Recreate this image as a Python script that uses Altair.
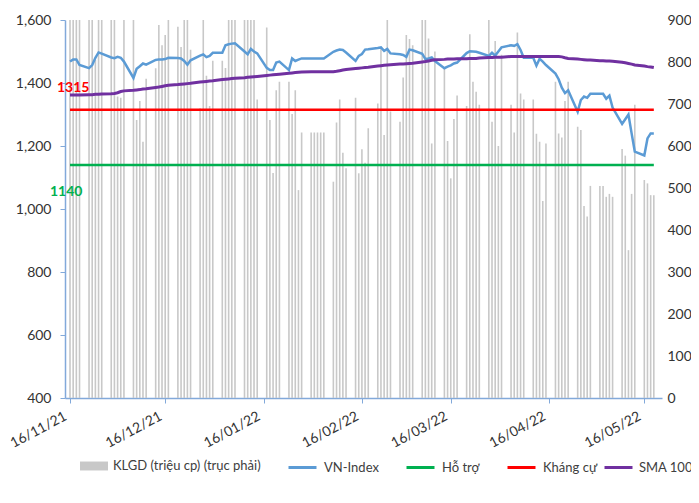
import altair as alt
import pandas as pd

# ---------------- data ----------------
trade_dates = pd.bdate_range("2021-11-16", "2022-05-19")

vn_index = [
    # Nov 2021
    1468, 1475, 1475, 1457, 1447, 1457, 1480, 1497, 1493, 1481, 1479,
    # Dec 2021
    1483, 1480, 1468, 1416, 1445, 1453, 1462, 1458, 1473, 1475, 1475, 1476,
    1480, 1479, 1478, 1470, 1458, 1472, 1487, 1491, 1482, 1486, 1496,
    # Jan 2022
    1496, 1520, 1523, 1525, 1526, 1500, 1491, 1508, 1500, 1494, 1448, 1441,
    1441, 1465, 1468, 1441, 1478, 1470, 1474, 1478, 1478,
    # Feb 2022
    1478, 1478, 1478, 1478, 1499, 1503, 1506, 1505, 1497, 1470, 1486, 1492,
    1506, 1507, 1511, 1513, 1502, 1508, 1494, 1491,
    # Mar 2022
    1489, 1483, 1506, 1504, 1493, 1476, 1478, 1481, 1470, 1447, 1452, 1456,
    1462, 1465, 1495, 1501, 1500, 1499, 1496, 1486, 1496, 1487, 1500,
    # Apr 2022
    1513, 1520, 1518, 1523, 1505, 1480, 1480, 1455, 1477, 1468, 1457, 1430,
    1412, 1385, 1368, 1377, 1309, 1346, 1357, 1353, 1366,
    # May 2022
    1366, 1366, 1350, 1360, 1322, 1270, 1285, 1300, 1240, 1182, 1170, 1224,
    1240, 1240,
]

sma_100 = [
    1362, 1362, 1362, 1362, 1363, 1363, 1364, 1364, 1365, 1366, 1367,
    1369, 1373, 1375, 1377, 1378, 1379, 1381, 1382, 1386, 1387, 1389, 1391,
    1393, 1395, 1396, 1397, 1398, 1399, 1403, 1404, 1405, 1406, 1407,
    1411, 1412, 1413, 1414, 1415, 1417, 1418, 1419, 1420, 1421, 1424, 1425,
    1426, 1427, 1428, 1431, 1432, 1433, 1434, 1435, 1436,
    1436, 1436, 1436, 1436, 1436, 1437, 1439, 1441, 1443, 1446, 1447, 1448,
    1449, 1450, 1454, 1455, 1456, 1457, 1458, 1460,
    1460, 1461, 1462, 1463, 1467, 1468, 1470, 1472, 1474, 1475, 1476, 1476,
    1476, 1477, 1477, 1478, 1478, 1478, 1479, 1481, 1481, 1482, 1482,
    1482, 1484, 1484, 1484, 1484, 1484, 1484, 1484, 1484, 1484, 1484, 1484,
    1484, 1483, 1480, 1478, 1476, 1475, 1474, 1473, 1473,
    1471, 1471, 1470, 1470, 1469, 1466, 1464, 1462, 1460, 1457, 1454, 1452,
    1451, 1449,
]

volume = [
    1100, 1050, 980, 1000, 950, 1120, 805, 1050, 1000, 1100, 1150,
    718, 715, 1000, 1100, 662, 707, 610, 760, 785, 888, 840, 864,
    1000, 884, 836, 1000, 950, 829, 690, 1000, 767, 695, 803,
    803, 786, 1000, 1050, 950, 1000, 1100, 1050, 950, 711, 882, 662,
    536, 733, 753, 753, 676, 733, 495, 632, 632,
    632, 632, 632, 632, 515, 656, 711, 584, 547, 715, 535, 592,
    560, 642, 701, 836, 626, 950, 682, 658,
    763, 864, 855, 840, 1000, 1050, 856, 606, 825, 786, 612, 523,
    664, 720, 695, 866, 753, 729, 698, 960, 658, 850, 600,
    817, 698, 632, 870, 725, 711, 711, 629, 610, 469, 606, 753,
    630, 620, 707, 753, 646, 638, 457, 432, 505,
    505, 505, 479, 486, 479, 593, 577, 352, 486, 698, 519, 511,
    483, 483,
]

support_level = 1140
resistance_level = 1315

bar_name = "KLGD (triệu cp) (trục phải)"
level_names = ["VN-Index", "Hỗ trợ", "Kháng cự"]
level_colors = ["#5B9BD5", "#00B050", "#FF0000"]
sma_name = "SMA 100"
sma_color = "#7030A0"
bar_color = "#C8C8C8"

tick_dates = [(2021, 11), (2021, 12), (2022, 1), (2022, 2), (2022, 3), (2022, 4), (2022, 5)]
left_ticks = [400, 600, 800, 1000, 1200, 1400, 1600]
right_ticks = [0, 100, 200, 300, 400, 500, 600, 700, 800, 900]

# ---------------- tables ----------------
vol_df = pd.DataFrame({"date": trade_dates, "volume": volume, "series": bar_name})

ends = [trade_dates[0], trade_dates[-1]]
line_df = pd.concat([
    pd.DataFrame({"date": trade_dates, "value": vn_index, "series": "VN-Index"}),
    pd.DataFrame({"date": ends, "value": [support_level] * 2, "series": "Hỗ trợ"}),
    pd.DataFrame({"date": ends, "value": [resistance_level] * 2, "series": "Kháng cự"}),
    pd.DataFrame({"date": trade_dates, "value": sma_100, "series": sma_name}),
], ignore_index=True)

FONT = "Lato"
AXIS_BLUE = "#82A9DA"

x_enc = alt.X(
    "date:T",
    scale=alt.Scale(domain=[alt.DateTime(year=2021, month=11, date=16),
                            alt.DateTime(year=2022, month=5, date=20)]),
    axis=alt.Axis(
        values=[alt.DateTime(year=y, month=m, date=16) for y, m in tick_dates],
        format="%d/%m/%y", labelAngle=332, labelAlign="right", labelBaseline="top",
        labelPadding=6, labelOffset=-8, tickSize=5, domainColor=AXIS_BLUE, tickColor=AXIS_BLUE,
        labelFont=FONT, labelFontSize=14, labelColor="#333333", grid=False,
        title=None, domainWidth=1.5, labelOverlap=False, labelFlush=False,
    ),
    title=None,
)

left_axis = alt.Axis(
    values=left_ticks, format=",d", tickSize=5, labelPadding=9,
    domainColor=AXIS_BLUE, tickColor=AXIS_BLUE, domainWidth=1.5,
    labelFont=FONT, labelFontSize=14, labelColor="#333333", grid=False, title=None,
)
y_line = alt.Y("value:Q", scale=alt.Scale(domain=[400, 1600], nice=False), axis=left_axis, title=None)

legend_common = dict(
    orient="none", legendY=432, direction="horizontal", title=None,
    symbolType="stroke", symbolSize=784, symbolStrokeWidth=3,
    labelFont=FONT, labelFontSize=13, labelColor="#404040", padding=0,
)

stroke_enc = alt.Stroke(
    "series:N",
    scale=alt.Scale(domain=level_names, range=level_colors),
    legend=alt.Legend(legendX=222, columns=3, gridAlign="none", columnPadding=21,
                      labelOffset=6, **legend_common),
)
sma_enc = alt.Color(
    "series:N",
    scale=alt.Scale(domain=[sma_name], range=[sma_color]),
    legend=alt.Legend(legendX=538, labelOffset=5, **legend_common),
)

bars = alt.Chart(vol_df).mark_bar(size=1.6, clip=True).encode(
    x=x_enc,
    y=alt.Y("volume:Q", scale=alt.Scale(domain=[0, 900], nice=False),
            axis=alt.Axis(orient="right", values=right_ticks, domain=False, ticks=False,
                          labelPadding=5, labelFont=FONT, labelFontSize=14,
                          labelColor="#333333", grid=False, title=None),
            title=None),
    fill=alt.Fill("series:N", scale=alt.Scale(domain=[bar_name], range=[bar_color]),
                  legend=alt.Legend(orient="none", legendX=15, legendY=432, title=None,
                                    symbolType="M-1,-0.32H1V0.32H-1Z", symbolSize=784,
                                    symbolStrokeWidth=0, labelFont=FONT, labelFontSize=13,
                                    labelColor="#404040", labelOffset=5, padding=0)),
)

def line_layer(name, width):
    return alt.Chart(line_df).transform_filter(
        alt.datum.series == name
    ).mark_line(strokeWidth=width, clip=True).encode(
        x=x_enc, y=y_line, stroke=stroke_enc, order="date:T"
    )

sma_layer = alt.Chart(line_df).transform_filter(
    alt.datum.series == sma_name
).mark_line(strokeWidth=3, clip=True).encode(
    x=x_enc, y=y_line, color=sma_enc, order="date:T"
)

ann_df = pd.DataFrame({
    "date": [trade_dates[0], trade_dates[0]],
    "value": [resistance_level, support_level],
    "label": [str(resistance_level), str(support_level)],
})
txt_res = alt.Chart(ann_df).transform_filter(alt.datum.value == resistance_level).mark_text(
    align="left", baseline="middle", dx=-13, dy=-22, font=FONT, fontSize=14,
    fontWeight="bold", color="#FF0000"
).encode(x=x_enc, y=y_line, text="label:N")
txt_sup = alt.Chart(ann_df).transform_filter(alt.datum.value == support_level).mark_text(
    align="left", baseline="middle", dx=-20, dy=27, font=FONT, fontSize=14,
    fontWeight="bold", color="#00B050"
).encode(x=x_enc, y=y_line, text="label:N")

lines = alt.layer(
    line_layer("VN-Index", 2.5),
    line_layer("Hỗ trợ", 2.5),
    line_layer("Kháng cự", 2.5),
    sma_layer,
    txt_res, txt_sup,
)

chart = alt.layer(bars, lines).resolve_scale(
    y="independent", fill="independent", stroke="independent", color="independent"
).properties(
    width=597, height=378,
    autosize=alt.AutoSizeParams(type="none"),
    padding={"left": 57, "top": 12, "right": 29, "bottom": 90},
).configure_view(stroke=None)

chart.save("out.html", embed_options={"renderer": "svg", "actions": False})
